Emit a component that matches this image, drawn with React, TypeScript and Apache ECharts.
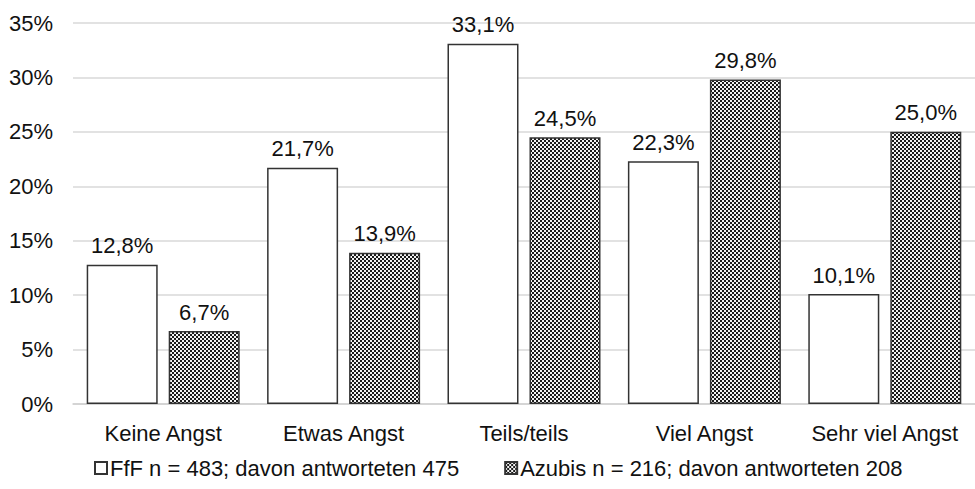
import React, { useEffect, useRef } from "react";
import * as echarts from "echarts";

const categories = ["Keine Angst", "Etwas Angst", "Teils/teils", "Viel Angst", "Sehr viel Angst"];
const seriesNames = ["FfF n = 483; davon antworteten 475", "Azubis n = 216; davon antworteten 208"];
const fffValues = [12.8, 21.7, 33.1, 22.3, 10.1];
const azubisValues = [6.7, 13.9, 24.5, 29.8, 25.0];
const yTicks = { min: 0, max: 35, interval: 5 };

const fmt = (v: number) => v.toFixed(1).replace(".", ",") + "%";

function makePattern(): HTMLCanvasElement {
  const c = document.createElement("canvas");
  c.width = 4;
  c.height = 4;
  const ctx = c.getContext("2d")!;
  ctx.fillStyle = "#f2f2f2";
  ctx.fillRect(0, 0, 4, 4);
  ctx.fillStyle = "#1a1a1a";
  ctx.fillRect(0, 0, 2, 2);
  ctx.fillRect(2, 2, 2, 2);
  return c;
}

export default function App() {
  const ref = useRef<HTMLDivElement>(null);
  useEffect(() => {
    document.body.style.margin = "0";
    const chart = echarts.init(ref.current!, undefined, { renderer: "svg" });
    const font = "'Liberation Sans', Arial, Helvetica, sans-serif";
    const pattern = { image: makePattern(), repeat: "repeat" } as any;
    chart.setOption({
      animation: false,
      textStyle: { fontFamily: font },
      grid: { left: 73, top: 23, width: 905, height: 381, containLabel: false },
      legend: {
        left: 89,
        top: 452,
        itemWidth: 12,
        itemHeight: 12,
        itemGap: 45,
        icon: "rect",
        textStyle: { fontSize: 22, color: "#111", fontFamily: font, padding: [0, 0, 0, -2] },
        data: seriesNames,
      },
      xAxis: {
        type: "category",
        data: categories,
        axisLine: { show: true, lineStyle: { color: "#d0d0d0", width: 1.5 } },
        axisTick: { show: false },
        axisLabel: { fontSize: 22, color: "#111", margin: 18, interval: 0, fontFamily: font },
      },
      yAxis: {
        type: "value",
        min: yTicks.min,
        max: yTicks.max,
        interval: yTicks.interval,
        axisLine: { show: false },
        axisTick: { show: false },
        splitLine: { lineStyle: { color: "#d9d9d9", width: 1.5 } },
        axisLabel: { fontSize: 22, color: "#111", margin: 20, formatter: "{value}%", fontFamily: font },
      },
      series: [
        {
          name: seriesNames[0],
          type: "bar",
          data: fffValues,
          barWidth: 71,
          barGap: "15.5%",
          itemStyle: { color: "#ffffff", borderColor: "#333", borderWidth: 1.5 },
          label: {
            show: true,
            position: "top",
            distance: 8,
            fontSize: 22,
            color: "#111",
            fontFamily: font,
            formatter: (p: any) => fmt(p.value),
          },
        },
        {
          name: seriesNames[1],
          type: "bar",
          data: azubisValues,
          barWidth: 71,
          itemStyle: { color: pattern, borderColor: "#333", borderWidth: 1.5 },
          label: {
            show: true,
            position: "top",
            distance: 8,
            fontSize: 22,
            color: "#111",
            fontFamily: font,
            formatter: (p: any) => fmt(p.value),
          },
        },
      ],
    });
    return () => chart.dispose();
  }, []);
  return <div ref={ref} style={{ width: 975, height: 489, position: "absolute", left: 0, top: 0 }} />;
}
